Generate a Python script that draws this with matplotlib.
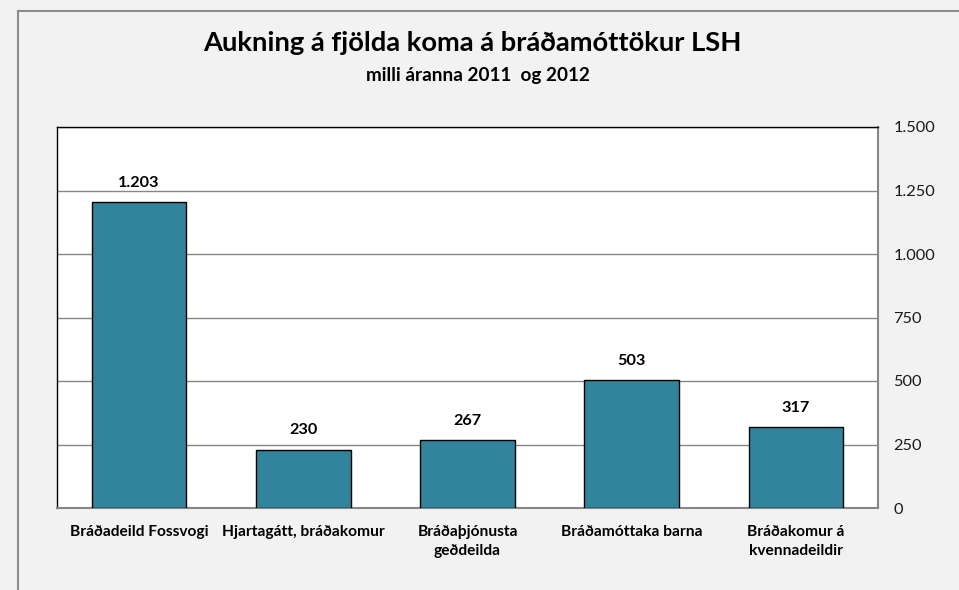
import matplotlib
matplotlib.use("Agg")
import matplotlib.pyplot as plt
from matplotlib.lines import Line2D
from matplotlib.ticker import FuncFormatter, MultipleLocator

categories = ["Bráðadeild Fossvogi", "Hjartagátt, bráðakomur",
              "Bráðaþjónusta\ngeðdeilda", "Bráðamóttaka barna",
              "Bráðakomur á\nkvennadeildir"]
values = [1203, 230, 267, 503, 317]
title = "Aukning á fjölda koma á bráðamóttökur LSH"
subtitle = "milli áranna 2011  og 2012"

plt.rcParams['font.family'] = ['Lato', 'DejaVu Sans']

def fmt(v):
    return f"{int(round(v)):,}".replace(",", ".")

fig = plt.figure(figsize=(9.59, 5.90), dpi=100)
fig.patch.set_facecolor("#f2f2f2")

# outer chart frame (only left and top edges visible)
fx = 17.5 / 959
fy = 1 - 10.5 / 590
fig.lines.append(Line2D([fx, fx], [0, fy], transform=fig.transFigure,
                        color="#8c8c8c", linewidth=1.5))
fig.lines.append(Line2D([fx, 1.01], [fy, fy], transform=fig.transFigure,
                        color="#8c8c8c", linewidth=1.5))

ax = fig.add_axes([57/959, 82/590, (878-57)/959, (508-127)/590])
ax.set_facecolor("white")

x = list(range(len(categories)))
ax.bar(x, values, width=0.575, color="#31849B", edgecolor="black",
       linewidth=1.0, zorder=3)
ax.set_xlim(-0.5, len(categories) - 0.5)
ax.set_ylim(0, 1500)
ax.yaxis.set_major_locator(MultipleLocator(250))
ax.yaxis.tick_right()
ax.yaxis.set_major_formatter(FuncFormatter(lambda v, p: fmt(v)))
ax.tick_params(axis='y', which='both', length=0, width=0, color='none',
               left=False, right=False, labelright=True, labelleft=False,
               pad=11, labelsize=11.8, labelcolor="#1a1a1a")
for lbl in ax.get_yticklabels():
    lbl.set_horizontalalignment('left')
ax.grid(axis='y', color="#868686", linewidth=1.0, zorder=1)
ax.set_axisbelow(True)

ax.set_xticks(x)
ax.set_xticklabels(categories, fontsize=11.2, fontweight='bold', linespacing=1.5)
ax.tick_params(axis='x', which='both', length=0, width=0, color='none',
               bottom=False, pad=12)

for s in ['top', 'left']:
    ax.spines[s].set_color('black')
    ax.spines[s].set_linewidth(1.0)
for s in ['right', 'bottom']:
    ax.spines[s].set_color('#868686')
    ax.spines[s].set_linewidth(1.5)

for xi, v in zip(x, values):
    ax.annotate(fmt(v), (xi, v), xytext=(0, 14), textcoords='offset points',
                ha='center', va='center', fontsize=11.7, fontweight='bold')

fig.text(472/959, 1 - 43/590, title, ha='center', va='center',
         fontsize=19.7, fontweight='bold')
fig.text(478/959, 1 - 75/590, subtitle, ha='center', va='center',
         fontsize=13.6, fontweight='bold')

fig.savefig("out.png", dpi=100, facecolor=fig.get_facecolor())
